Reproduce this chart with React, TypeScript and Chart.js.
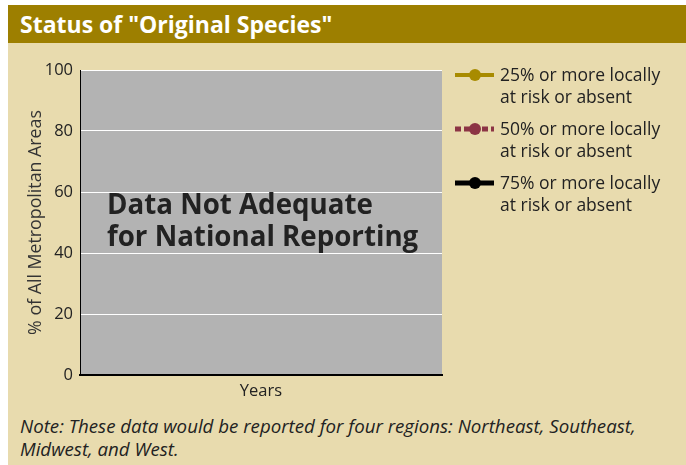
import React, { useEffect, useRef } from "react";
import { Chart, registerables } from "chart.js";

Chart.register(...registerables);

const TITLE = 'Status of "Original Species"';
const NOTE_LINES = [
  "Note: These data would be reported for four regions: Northeast, Southeast,",
  "Midwest, and West.",
];
const OVERLAY_LINES = ["Data Not Adequate", "for National Reporting"];
const X_TITLE = "Years";
const Y_TITLE = "% of All Metropolitan Areas";

// Categories (no years reported)
const categories: string[] = [""];
// Series values: no data adequate for national reporting
const series25: (number | null)[] = [null];
const series50: (number | null)[] = [null];
const series75: (number | null)[] = [null];
const seriesNames: string[][] = [
  ["25% or more locally", "at risk or absent"],
  ["50% or more locally", "at risk or absent"],
  ["75% or more locally", "at risk or absent"],
];
const seriesColors = ["#a88b00", "#8c3445", "#000000"];
const seriesDash: number[][] = [[], [6, 3], []];
const seriesWidths = [4, 5, 5];
const yTicks = [0, 20, 40, 60, 80, 100];

const FONT = "'Open Sans', 'DejaVu Sans', sans-serif";
const BG = "#e8dbae";
const PLOT_BG = "#b3b3b3";
const GOLD = "#9d7f00";
const TEXT = "#222222";

const decorPlugin = {
  id: "decor",
  beforeDraw(chart: any) {
    const { ctx, chartArea } = chart;
    ctx.save();
    ctx.fillStyle = PLOT_BG;
    ctx.fillRect(chartArea.left, chartArea.top, chartArea.right - chartArea.left, chartArea.bottom - chartArea.top);
    ctx.restore();
  },
  afterDraw(chart: any) {
    const { ctx, chartArea } = chart;
    ctx.save();
    // overlay message
    ctx.fillStyle = TEXT;
    ctx.font = `bold 27.7px ${FONT}`;
    ctx.textAlign = "left";
    ctx.textBaseline = "alphabetic";
    const cy = (chartArea.top + chartArea.bottom) / 2;
    OVERLAY_LINES.forEach((t, i) => {
      ctx.fillText(t, chartArea.left + 27, cy - 8.5 + i * 32);
    });
    // legend
    const lx = chartArea.right + 13;
    let ly = chartArea.top + 5;
    chart.data.datasets.forEach((ds: any, i: number) => {
      ctx.save();
      ctx.strokeStyle = ds.borderColor;
      ctx.lineWidth = ds.borderWidth;
      ctx.setLineDash(ds.borderDash || []);
      ctx.beginPath();
      ctx.moveTo(lx, ly);
      ctx.lineTo(lx + 39, ly);
      ctx.stroke();
      ctx.setLineDash([]);
      ctx.fillStyle = ds.borderColor;
      ctx.beginPath();
      ctx.arc(lx + 20, ly, 6, 0, Math.PI * 2);
      ctx.fill();
      ctx.restore();
      ctx.fillStyle = TEXT;
      ctx.font = `17.5px ${FONT}`;
      ctx.textBaseline = "middle";
      const lines: string[] = ds.label.split("\n");
      lines.forEach((t, j) => ctx.fillText(t, lx + 45, ly + 1 + j * 22));
      ly += 54;
    });
    ctx.restore();
  },
};

export default function App() {
  const ref = useRef<HTMLCanvasElement>(null);
  useEffect(() => {
    if (!ref.current) return;
    const chart = new Chart(ref.current, {
      type: "line",
      data: {
        labels: categories,
        datasets: [series25, series50, series75].map((d, i) => ({
          label: seriesNames[i].join("\n"),
          data: d,
          borderColor: seriesColors[i],
          backgroundColor: seriesColors[i],
          borderWidth: seriesWidths[i],
          borderDash: seriesDash[i],
          pointRadius: 6,
        })),
      },
      options: {
        responsive: false,
        animation: false,
        layout: { padding: { left: 0, top: 27, right: 244, bottom: 0 } },
        plugins: { legend: { display: false }, tooltip: { enabled: false }, title: { display: false } },
        scales: {
          x: {
            grid: { display: false, drawTicks: false },
            border: { color: "#000", width: 2 },
            ticks: { display: false },
            title: {
              display: true,
              text: X_TITLE,
              color: TEXT,
              font: { family: FONT, size: 16.5 },
              padding: { top: 2, bottom: 2 },
            },
            afterFit(scale: any) {
              scale.height = 28;
            },
          },
          y: {
            min: 0,
            max: 100,
            afterBuildTicks(scale: any) {
              scale.ticks = yTicks.map((v) => ({ value: v }));
            },
            grid: { color: "#ffffff", lineWidth: 1, drawTicks: false },
            border: { color: "#000", width: 1 },
            ticks: {
              color: TEXT,
              padding: 7,
              font: { family: FONT, size: 16.5 },
            },
            title: {
              display: true,
              text: Y_TITLE,
              color: "#333",
              font: { family: FONT, size: 17.8 },
              padding: { top: 17, bottom: 17 },
            },
            afterFit(scale: any) {
              scale.width = 72;
            },
          },
        },
      },
      plugins: [decorPlugin],
    });
    return () => chart.destroy();
  }, []);

  return (
    <div
      style={{
        position: "absolute",
        left: 8,
        top: 5,
        width: 678,
        height: 460,
        background: BG,
        overflow: "hidden",
        fontFamily: FONT,
      }}
    >
      <div
        style={{
          height: 38,
          lineHeight: "38px",
          background: GOLD,
          color: "#fff",
          fontWeight: 700,
          fontSize: 23,
          paddingLeft: 12,
          whiteSpace: "nowrap",
        }}
      >
        {TITLE}
      </div>
      <canvas ref={ref} width={678} height={360} style={{ display: "block", width: 678, height: 360 }} />
      <div
        style={{
          position: "absolute",
          left: 12,
          top: 409,
          fontStyle: "italic",
          fontSize: 18.7,
          lineHeight: "23px",
          color: TEXT,
          whiteSpace: "nowrap",
        }}
      >
        {NOTE_LINES.map((l, i) => (
          <div key={i}>{l}</div>
        ))}
      </div>
    </div>
  );
}
